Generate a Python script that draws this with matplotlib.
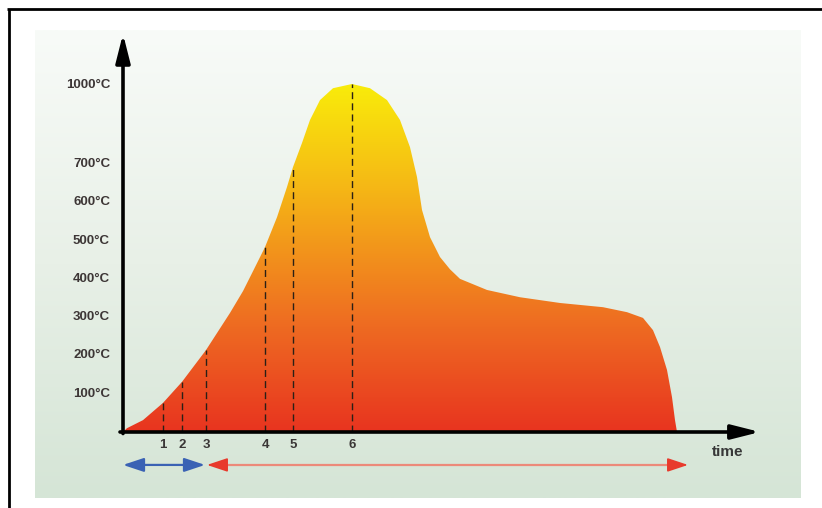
import numpy as np
import matplotlib
matplotlib.use('Agg')
import matplotlib.pyplot as plt
from matplotlib.colors import LinearSegmentedColormap
from matplotlib.patches import Polygon

plt.rcParams['font.family'] = ['Liberation Sans', 'DejaVu Sans']

# --- data: temperature profile (time in arbitrary units, T in "plot units") ---
curve_time = [0, 4, 20, 40, 59, 83, 107, 120, 130, 142, 154, 164, 170, 179, 187, 197,
              210, 229, 247, 264, 277, 287, 294, 299, 307, 317, 327, 337, 364,
              397, 437, 480, 504, 520, 530, 537, 544, 549, 552, 554]
curve_temp = [0, 10, 31, 76, 131, 214, 311, 368, 420, 483, 561, 640, 692, 755, 815, 867,
              898, 909, 898, 867, 815, 744, 666, 580, 509, 457, 425, 400, 371,
              352, 337, 326, 313, 298, 266, 222, 162, 91, 31, 0]

# stage markers on the time axis
marker_time = [40, 59, 83, 142, 170, 229]
marker_labels = ['1', '2', '3', '4', '5', '6']

# y axis labels (1000°C sits higher than the linear scale)
ytick_pos = [100, 200, 300, 400, 500, 600, 700, 906]
ytick_labels = ['100°C', '200°C', '300°C', '400°C', '500°C', '600°C', '700°C', '1000°C']

W, H = 822, 508
fig = plt.figure(figsize=(W / 100, H / 100), dpi=100)
fig.patch.set_facecolor('white')

# --- background panel + frame lines ---
bg = fig.add_axes([0, 0, 1, 1])
bg.set_xlim(0, W)
bg.set_ylim(H, 0)
bg.axis('off')
bg_cmap = LinearSegmentedColormap.from_list('bg', ['#f8fbf8', '#e8f0e7', '#d5e5d6'])
grad = np.linspace(0, 1, 256).reshape(-1, 1)
bg.imshow(grad, cmap=bg_cmap, extent=(35, 800, 498, 30), aspect='auto', origin='upper')
bg.plot([7, W], [9, 9], color='black', lw=2, solid_capstyle='butt')
bg.plot([9, 9], [9, H], color='black', lw=2, solid_capstyle='butt')

# --- main axes ---
ax = fig.add_axes([123 / W, 76 / H, 632 / W, 397 / H])
ax.patch.set_alpha(0)
ax.set_xlim(0, 632)
ax.set_ylim(0, 1037)
ax.axis('off')

# gradient filled curve
fire = LinearSegmentedColormap.from_list(
    'fire', [(0, '#e8341f'), (0.3, '#ee6a22'), (0.5, '#f2901c'),
             (0.75, '#f6c014'), (1, '#f9ec0a')])
tgrad = np.linspace(0, 1, 256).reshape(-1, 1)
im = ax.imshow(tgrad, cmap=fire, extent=(0, 632, 0, max(curve_temp)),
               aspect='auto', origin='lower')
poly = Polygon(np.column_stack([curve_time, curve_temp]), closed=True,
               facecolor='none', edgecolor='none')
ax.add_patch(poly)
im.set_clip_path(poly)

# dashed stage lines
tops = np.interp(marker_time, curve_time, curve_temp)
ax.vlines(marker_time, 0, tops, colors='#2a2016', linestyles=(0, (5, 3)), lw=1)
for t, lab in zip(marker_time, marker_labels):
    ax.text(t, -34, lab, ha='center', va='center', fontsize=9.5,
            fontweight='bold', color='#3a3636')

for p, lab in zip(ytick_pos, ytick_labels):
    ax.text(-13, p, lab, ha='right', va='center', fontsize=9.5,
            fontweight='bold', color='#3d3636')

# axis arrows
head = '-|>,head_length=0.95,head_width=0.24'
ax.annotate('', xy=(0, 1040), xytext=(0, -4), annotation_clip=False,
            arrowprops=dict(arrowstyle=head, mutation_scale=18, lw=2.6,
                            color='black', shrinkA=0, shrinkB=0))
ax.annotate('', xy=(637, 0), xytext=(-3, 0), annotation_clip=False,
            arrowprops=dict(arrowstyle=head, mutation_scale=18, lw=2.6,
                            color='black', shrinkA=0, shrinkB=0))
ax.text(605, -52, 'time', ha='center', va='center', fontsize=11,
        fontweight='bold', color='#383838')

# phase arrows below the axis
ya = -86
ax.annotate('', xy=(82, ya), xytext=(0, ya), annotation_clip=False,
            arrowprops=dict(arrowstyle='<|-|>,head_length=0.9,head_width=0.3',
                            mutation_scale=14, lw=1.6, color='#3a62b4',
                            shrinkA=0, shrinkB=0))
ax.plot([92, 556], [ya, ya], color='#ec8a7a', lw=1.6, clip_on=False)
ax.annotate('', xy=(84, ya), xytext=(96, ya), annotation_clip=False,
            arrowprops=dict(arrowstyle='-|>,head_length=0.9,head_width=0.3',
                            mutation_scale=14, lw=1.2, color='#e83a2c',
                            shrinkA=0, shrinkB=0))
ax.annotate('', xy=(565, ya), xytext=(552, ya), annotation_clip=False,
            arrowprops=dict(arrowstyle='-|>,head_length=0.9,head_width=0.3',
                            mutation_scale=14, lw=1.2, color='#e83a2c',
                            shrinkA=0, shrinkB=0))

plt.savefig('out.png', dpi=100)
